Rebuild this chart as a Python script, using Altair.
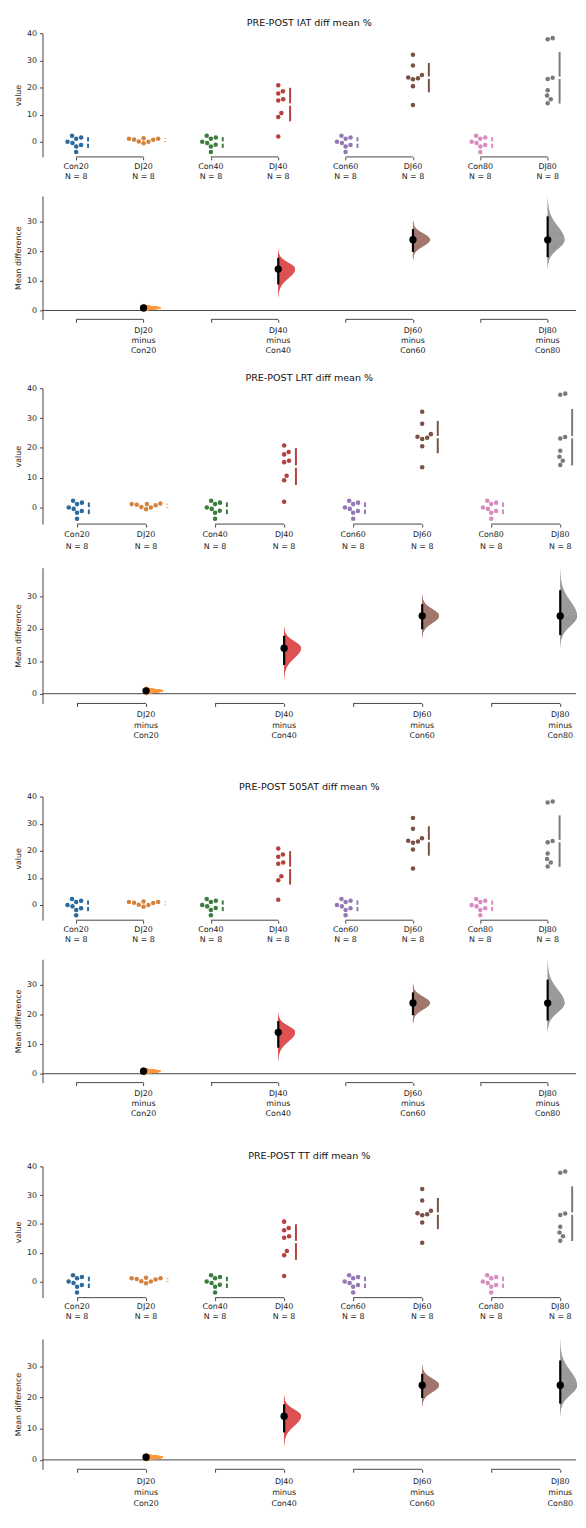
import numpy as np
import pandas as pd
import altair as alt

FONT = "DejaVu Sans"
AX = "#444444"
TXT = "#222222"

# ---------------- data ----------------
titles = ["PRE-POST IAT diff mean %", "PRE-POST LRT diff mean %",
          "PRE-POST 505AT diff mean %", "PRE-POST TT diff mean %"]
groups = ["Con20", "DJ20", "Con40", "DJ40", "Con60", "DJ60", "Con80", "DJ80"]
n_labels = ["N = 8"] * 8

con20 = [2.2, 1.6, 1.1, 0.0, -0.5, -1.2, -1.8, -3.8]
dj20 = [1.3, 1.1, 1.1, 0.85, 0.7, 0.1, 0.0, -0.6]
con40 = [2.2, 1.6, 1.1, 0.0, -0.5, -1.1, -1.8, -3.8]
dj40 = [20.8, 18.6, 17.8, 15.7, 15.2, 10.6, 9.1, 1.9]
con60 = [2.2, 1.6, 1.1, 0.0, -0.5, -1.2, -1.8, -3.8]
dj60 = [32.1, 28.1, 24.6, 23.7, 23.4, 23.0, 20.5, 13.5]
con80 = [2.2, 1.6, 1.1, 0.0, -0.5, -1.2, -1.8, -3.8]
dj80 = [38.2, 37.8, 23.6, 23.1, 19.0, 17.0, 15.7, 14.2]
# the four measures show the same values
panel_values = [[con20, dj20, con40, dj40, con60, dj60, con80, dj80]] * 4

# 95% CI of the mean difference (read) and spread of the bootstrap curve (read)
ci_low = [0.1, 8.8, 19.8, 18.0]
ci_high = [1.8, 17.8, 27.5, 31.8]
boot_sd_low = [0.4, 3.0, 2.1, 3.0]
boot_sd_high = [0.4, 2.0, 2.0, 4.5]

colors = ["#2b6a9e", "#d4823c", "#3b7d3e", "#b5413d",
          "#9478b5", "#7b5146", "#d98cc0", "#7a7a7a"]
violin_colors = ["#ff993e", "#de5253", "#a3786f", "#999999"]
comparisons = [(0, 1), (2, 3), (4, 5), (6, 7)]

# ---------------- layout ----------------
PLOT_W = 541
SW_DOM = [-5.6, 40]
D_DOM = [-3, 38.7]
DIAM = 5.2
BAR_OFF = 7.0
GAP_PX = 1.2
VIOLIN_PX = 17.0
LINE_H = 10.3
layouts = [
    {"sw_ppu": 2.75, "unit": 68.3, "d_ppu": 3.0, "sw_lab": 1.0, "d_lab": 1.0,
     "gap_mid": 22.6, "gap_after": 37.6},
    {"sw_ppu": 3.02, "unit": 70.0, "d_ppu": 3.3, "sw_lab": 1.16, "d_lab": 1.03,
     "gap_mid": 26.9, "gap_after": 62.7},
    {"sw_ppu": 2.75, "unit": 68.3, "d_ppu": 3.0, "sw_lab": 1.0, "d_lab": 1.0,
     "gap_mid": 22.2, "gap_after": 52.6},
    {"sw_ppu": 2.92, "unit": 70.0, "d_ppu": 3.17, "sw_lab": 1.0, "d_lab": 1.1,
     "gap_mid": 24.4, "gap_after": 0},
]
SPACING = 12


def beeswarm(vals, d, ppu):
    ys = np.asarray(vals, float) * ppu
    order = np.argsort(ys, kind="stable")
    placed = []
    xs = np.zeros(len(ys))
    for i in order:
        y = ys[i]
        cands = [0.0]
        for px, py in placed:
            dy = abs(y - py)
            if dy < d:
                dx = (d * d - dy * dy) ** 0.5
                cands.extend([px + dx, px - dx])
        cands.sort(key=lambda c: (abs(c), -c))
        for c in cands:
            if all((c - px) ** 2 + (y - py) ** 2 >= d * d - 1e-9 for px, py in placed):
                xs[i] = c
                placed.append((c, y))
                break
    return xs


def yaxis(values, title):
    return alt.Axis(values=values, title=title, grid=False, tickSize=3,
                    labelPadding=3, titlePadding=4, domainColor=AX, tickColor=AX,
                    domainWidth=1, labelColor=TXT, titleColor=TXT, labelFontSize=8,
                    titleFontSize=8, titleFontWeight="normal", labelFont=FONT,
                    titleFont=FONT)


def xaxis(gap=0):
    if gap:
        # an empty axis title only reserves the space below the labels
        kw = {"title": " ", "titlePadding": gap, "titleFontSize": 1}
    else:
        kw = {"title": None}
    return alt.Axis(values=list(range(8)), labels=False, domain=False, grid=False,
                    ticks=True, tickSize=3, tickColor=AX, **kw)


def label_layers(lines, ymin, xsc, ysc, xax, yax, first_dy, lab):
    """tick labels below the brackets, one text layer per line"""
    layers = []
    for li, texts in enumerate(lines):
        df = pd.DataFrame({"gi": list(range(len(texts))), "txt": texts})
        df = df[df["txt"] != ""]
        layers.append(
            alt.Chart(df).mark_text(fontSize=8, font=FONT, color=TXT, baseline="middle",
                                    align="center", dy=(first_dy + li * LINE_H) * lab)
            .encode(x=alt.X("gi:Q", scale=xsc, axis=xax),
                    y=alt.YDatum(ymin, scale=ysc, axis=yax),
                    text="txt:N")
        )
    return layers


def swarm_chart(title, vals_list, lay):
    ppu, unit = lay["sw_ppu"], lay["unit"]
    h = (SW_DOM[1] - SW_DOM[0]) * ppu
    xmax = PLOT_W / unit - 0.5
    xsc = alt.Scale(domain=[-0.5, xmax], nice=False, zero=False)
    ysc = alt.Scale(domain=SW_DOM, nice=False, zero=False)
    csc = alt.Scale(domain=groups, range=colors)
    xax = xaxis(lay["gap_mid"])
    yax = yaxis([0, 10, 20, 30, 40], "value")
    pts, bars = [], []
    for gi, (g, vals) in enumerate(zip(groups, vals_list)):
        xo = beeswarm(vals, DIAM, ppu)
        for v, o in zip(vals, xo):
            pts.append({"group": g, "gx": gi + o / unit, "value": v})
        m = float(np.mean(vals))
        s = float(np.std(vals, ddof=1))
        bx = gi + (xo.max() + BAR_OFF) / unit
        gap = GAP_PX / ppu
        bars.append({"group": g, "gx": bx, "y1": m - s, "y2": m - gap})
        bars.append({"group": g, "gx": bx, "y1": m + gap, "y2": m + s})
    brackets = pd.DataFrame([{"x0": a, "x1": b} for a, b in comparisons])

    points = alt.Chart(pd.DataFrame(pts)).mark_circle(size=21, opacity=1).encode(
        x=alt.X("gx:Q", scale=xsc, axis=xax),
        y=alt.Y("value:Q", scale=ysc, axis=yax),
        color=alt.Color("group:N", scale=csc, legend=None),
    )
    sd = alt.Chart(pd.DataFrame(bars)).mark_rule(strokeWidth=2).encode(
        x=alt.X("gx:Q", scale=xsc, axis=xax),
        y=alt.Y("y1:Q", scale=ysc, axis=yax),
        y2="y2:Q",
        color=alt.Color("group:N", scale=csc, legend=None),
    )
    br = alt.Chart(brackets).mark_rule(color=AX, strokeWidth=1).encode(
        x=alt.X("x0:Q", scale=xsc, axis=xax), x2="x1:Q",
        y=alt.YDatum(SW_DOM[0], scale=ysc, axis=yax),
    )
    ttl = alt.Chart(pd.DataFrame({"t": [title]})).mark_text(
        fontSize=9.7, font=FONT, color="#111111", baseline="middle", align="center",
        dy=-10,
    ).encode(
        x=alt.XDatum((-0.5 + xmax) / 2, scale=xsc, axis=xax),
        y=alt.YDatum(SW_DOM[1], scale=ysc, axis=yax),
        text="t:N",
    )
    labs = label_layers([groups, n_labels], SW_DOM[0], xsc, ysc, xax, yax, 9.8,
                        lay["sw_lab"])
    return alt.layer(points, sd, br, ttl, *labs).properties(width=PLOT_W, height=h)


def delta_chart(vals_list, lay):
    ppu, unit = lay["d_ppu"], lay["unit"]
    h = (D_DOM[1] - D_DOM[0]) * ppu
    xsc = alt.Scale(domain=[-0.5, PLOT_W / unit - 0.5], nice=False, zero=False)
    ysc = alt.Scale(domain=D_DOM, nice=False, zero=False)
    comp_names = [f"{groups[b]} minus {groups[a]}" for a, b in comparisons]
    vsc = alt.Scale(domain=comp_names, range=violin_colors)
    xax = xaxis(lay["gap_after"])
    yax = yaxis([0, 10, 20, 30], "Mean difference")
    vrows, est = [], []
    wmax = VIOLIN_PX / unit
    zs = np.linspace(-3.2, 3.2, 161)
    for k, (a, b) in enumerate(comparisons):
        md = float(np.mean(vals_list[b]) - np.mean(vals_list[a]))
        est.append({"comp": comp_names[k], "gx": b, "md": md,
                    "lo": ci_low[k], "hi": ci_high[k]})
        for z in zs:
            sdv = boot_sd_low[k] if z < 0 else boot_sd_high[k]
            vrows.append({"comp": comp_names[k], "y": md + z * sdv, "x0": b,
                          "x1": b + wmax * float(np.exp(-0.5 * z * z))})
    brackets = pd.DataFrame([{"x0": a, "x1": b} for a, b in comparisons])

    br = alt.Chart(brackets).mark_rule(color=AX, strokeWidth=1).encode(
        x=alt.X("x0:Q", scale=xsc, axis=xax), x2="x1:Q",
        y=alt.YDatum(D_DOM[0], scale=ysc, axis=yax),
    )
    zero = alt.Chart(pd.DataFrame({"z": [0]})).mark_rule(color=AX, strokeWidth=1).encode(
        y=alt.Y("z:Q", scale=ysc, axis=yax),
    )
    # half-violins of the bootstrap distribution, drawn as thin horizontal slices
    vio = alt.Chart(pd.DataFrame(vrows)).mark_rule(strokeWidth=1.1, opacity=1).encode(
        y=alt.Y("y:Q", scale=ysc, axis=yax),
        x=alt.X("x0:Q", scale=xsc, axis=xax), x2="x1:Q",
        color=alt.Color("comp:N", scale=vsc, legend=None),
    )
    e = pd.DataFrame(est)
    ci = alt.Chart(e).mark_rule(color="black", strokeWidth=2.2).encode(
        x=alt.X("gx:Q", scale=xsc, axis=xax),
        y=alt.Y("lo:Q", scale=ysc, axis=yax), y2="hi:Q",
    )
    dot = alt.Chart(e).mark_circle(color="black", size=55, opacity=1).encode(
        x=alt.X("gx:Q", scale=xsc, axis=xax),
        y=alt.Y("md:Q", scale=ysc, axis=yax),
    )
    line1 = ["" if i % 2 == 0 else groups[i] for i in range(8)]
    line2 = ["" if i % 2 == 0 else "minus" for i in range(8)]
    line3 = ["" if i % 2 == 0 else groups[i - 1] for i in range(8)]
    labs = label_layers([line1, line2, line3], D_DOM[0], xsc, ysc, xax, yax, 11.5,
                        lay["d_lab"])
    return alt.layer(br, zero, vio, ci, dot, *labs).properties(width=PLOT_W, height=h)


subcharts = []
for t, vals_list, lay in zip(titles, panel_values, layouts):
    subcharts.append(swarm_chart(t, vals_list, lay))
    subcharts.append(delta_chart(vals_list, lay))

chart = alt.vconcat(*subcharts, spacing=SPACING).resolve_scale(
    x="independent", y="independent", color="independent"
).properties(
    padding={"left": 6, "top": 0, "right": 0, "bottom": 0}
).configure(font=FONT).configure_view(stroke=None)

chart.save("out.html", embed_options={"renderer": "svg", "actions": False})
